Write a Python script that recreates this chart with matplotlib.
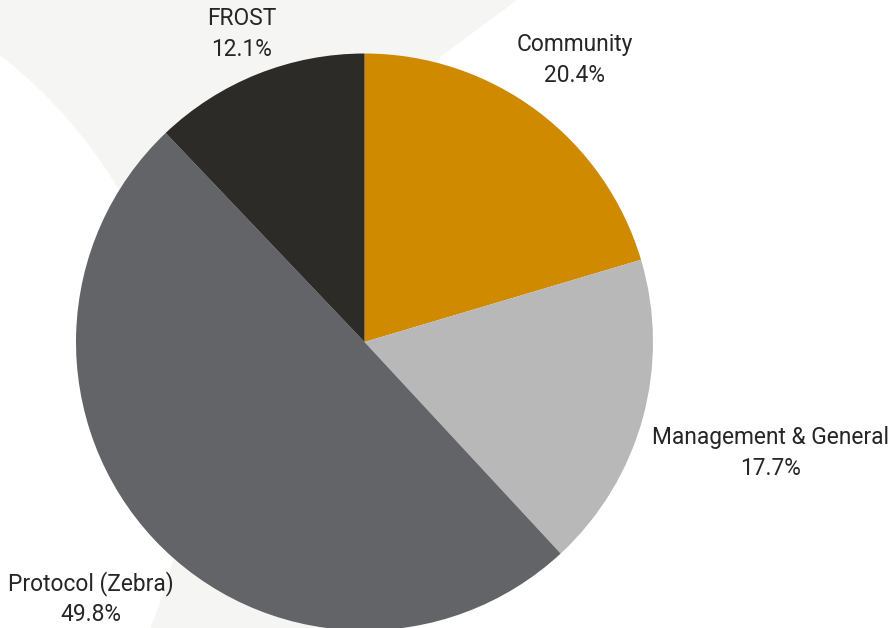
import numpy as np
import matplotlib
matplotlib.use("Agg")
import matplotlib.pyplot as plt
from matplotlib.patches import Polygon

# --- data ---
labels = ["Community", "Management & General", "Protocol (Zebra)", "FROST"]
shares = [20.4, 17.7, 49.8, 12.1]
colors = ["#D08A00", "#B8B8B8", "#636468", "#2C2B27"]
label_dist = [1.22, 1.46, 1.30, 1.15]

W, H = 893, 628
fig = plt.figure(figsize=(W / 100, H / 100), dpi=100, facecolor="white")
ax = fig.add_axes([0, 0, 1, 1])

# light grey swoosh behind the pie (pixel coords, y down)
cx, cy, r = -300, 440, 488
t = np.radians(np.linspace(26.8, -53.5, 80))
arc = np.column_stack([cx + r * np.cos(t), cy + r * np.sin(t)])
outer = np.array([[-10, -40], [565, -40], [517, 0], [440, 57], [380, 200], [365, 660]])
pts = np.vstack([outer, arc])
pts[:, 1] = H - pts[:, 1]
ax.add_patch(Polygon(pts, closed=True, fc="#F5F5F3", ec="none", zorder=0))

# --- pie ---
pc = (364.5, H - 342)
R = 288.5
wedges, _ = ax.pie(shares, colors=colors, startangle=90, counterclock=False,
                   center=pc, radius=R, frame=True,
                   wedgeprops=dict(linewidth=0))

for w, lab, s, d in zip(wedges, labels, shares, label_dist):
    ang = np.radians((w.theta1 + w.theta2) / 2)
    x = pc[0] + R * d * np.cos(ang)
    y = pc[1] + R * d * np.sin(ang)
    ax.text(x, y, f"{lab}\n{s:.1f}%", ha="center", va="center", fontsize=16.4,
            linespacing=1.42, color="#262626", family="Roboto")

ax.set_xlim(0, W)
ax.set_ylim(0, H)
ax.axis("off")

fig.savefig("out.png", dpi=100)
